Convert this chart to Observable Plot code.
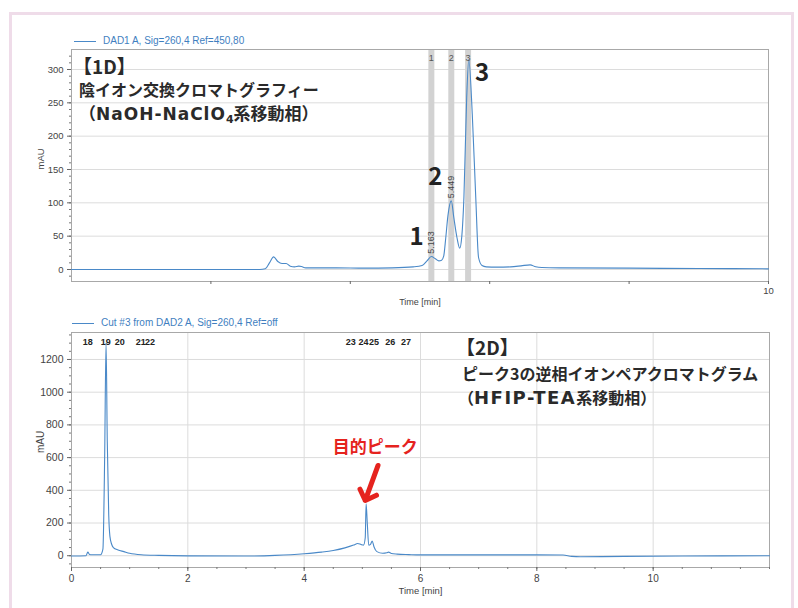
<!DOCTYPE html>
<html>
<head>
<meta charset="utf-8">
<script src="https://cdn.jsdelivr.net/npm/d3@7"></script>
<script src="https://cdn.jsdelivr.net/npm/@observablehq/plot@0.6"></script>
<style>
  body { margin: 0; background: #fff; }
  #wrap { position: relative; width: 798px; height: 608px; overflow: hidden; background: #fff; }
  #wrap svg { position: absolute; left: 0; }
  .border { position: absolute; left: 9px; top: 12px; width: 779px; height: 640px;
            border: 3.5px solid #efdce9; border-bottom: none; }
  .ttl { position: absolute; font-family: "Noto Sans CJK JP", sans-serif; font-weight: 700;
         font-size: 16px; line-height: 22px; color: #2a2a2a; white-space: nowrap; }
  .big { font-size: 19px; }
  .l3 { font-size: 17px; }
  .l3 .lat { font-size: 17px; letter-spacing: 1px; }
  .l3 sub { font-size: 11px; vertical-align: -3px; line-height: 0; font-family: "DejaVu Sans", sans-serif; }
  .lat { font-family: "DejaVu Sans", sans-serif; font-size: 18px; letter-spacing: 1.5px; }
  .leg { position: absolute; font-family: "Liberation Sans", Arial, sans-serif; font-size: 10px;
         color: #3f7fbf; white-space: nowrap; background: #fff; }
  .leg i { display: inline-block; width: 22px; height: 1px; background: #4a89c8;
           vertical-align: middle; margin-right: 7px; }
</style>
</head>
<body>
<div id="wrap">
  <div class="border"></div>
</div>
<script>
// ---------- 1D chromatogram (anion exchange) ----------
const topTimes  = [0, 2.7, 2.78, 2.84, 2.9, 2.96, 3.02, 3.08, 3.14, 3.2, 3.26, 3.3, 3.36, 3.45, 3.8, 4.2, 4.6, 4.9, 5.03, 5.1, 5.163, 5.22, 5.27, 5.31, 5.34, 5.37, 5.40, 5.449, 5.485, 5.53, 5.57, 5.60, 5.63, 5.67, 5.70, 5.75, 5.80, 5.84, 5.89, 5.95, 6.1, 6.3, 6.45, 6.58, 6.66, 6.75, 7.0, 8.0, 9.0, 10];
const topValues = [0, 0, 1, 10, 19, 12, 9, 9, 5, 4, 5, 4.5, 2.5, 2.5, 2.5, 2, 2.5, 4, 6, 13, 19.5, 16, 13, 14, 20, 48, 80, 103, 78, 48, 32, 50, 108, 258, 315, 233, 108, 18, 6, 4, 3.5, 4, 5.5, 7, 4, 3, 2.5, 2, 1.5, 1];
const topYTicks = [0, 50, 100, 150, 200, 250, 300];
const topXTicks = [2, 4, 6, 8, 10];
const cutTimes = [5.163, 5.449, 5.69];
const cutLabels = ["1", "2", "3"];
const rtLabels = ["5.163", "5.449"];
const rtValues = [19.5, 103];
const bigLabels = ["1", "2", "3"];
const bigLabelTimes = [4.95, 5.22, 5.89];
const bigLabelValues = [48, 138, 295];

// ---------- 2D chromatogram (reversed-phase ion pair) ----------
const botTimes  = [0, 0.25, 0.28, 0.31, 0.35, 0.5, 0.54, 0.57, 0.594, 0.615, 0.64, 0.66, 0.69, 0.72, 0.8, 0.9, 1.0, 1.2, 1.5, 2.0, 3.0, 3.5, 4.0, 4.3, 4.5, 4.7, 4.85, 4.92, 4.98, 5.02, 5.05, 5.065, 5.085, 5.11, 5.14, 5.17, 5.2, 5.25, 5.35, 5.42, 5.45, 5.5, 5.6, 5.8, 6.0, 7.0, 8.0, 8.45, 8.6, 8.75, 9.5, 10.5, 12];
const botValues = [-2, 0, 22, 8, 6, 6, 40, 600, 1303, 700, 250, 120, 70, 50, 35, 25, 15, 6, 2, -1, -2, 2, 12, 22, 32, 48, 65, 75, 68, 65, 110, 318, 200, 65, 70, 90, 55, 25, 15, 18, 22, 14, 10, 7, 5, 5, 5, 4, -4, -6, -4, -2, 0];
const botYTicks = [0, 200, 400, 600, 800, 1000, 1200];
const botXTicks = [0, 2, 4, 6, 8, 10];
const peakLabels = ["18", "19", "20", "21", "22", "23", "24", "25", "26", "27"];
const peakTimes  = [0.28, 0.59, 0.83, 1.19, 1.35, 4.80, 5.02, 5.20, 5.48, 5.75];
const targetLabel = ["目的ピーク"];
const targetLabelX = [5.22];
const targetLabelY = [662];
const arrowFromX = [5.27], arrowFromY = [552];
const arrowToX = [5.05], arrowToY = [338];

const lineColor = "#4a89c8";
const axisFont = "'Liberation Sans', Arial, sans-serif";
const plain = d => String(d);

const topPlot = Plot.plot({
  width: 798, height: 310,
  marginLeft: 71, marginRight: 30, marginTop: 49, marginBottom: 29,
  x: {domain: [0, 10]},
  y: {domain: [-18, 330]},
  style: {fontFamily: axisFont, fontSize: "9.5px", color: "#444", background: "transparent"},
  marks: [
    Plot.gridY(topYTicks, {stroke: "#dcdcdc", strokeOpacity: 1}),
    Plot.ruleX(cutTimes, {stroke: "#d2d2d2", strokeWidth: 6}),
    Plot.frame({stroke: "#a8a8a8"}),
    Plot.axisY(d3.range(-10, 330, 10), {tickSize: 2, tickFormat: () => "", label: null, stroke: "#777"}),
    Plot.axisY(topYTicks, {tickSize: 4, tickPadding: 4, tickFormat: plain, label: null, stroke: "#666"}),
    Plot.axisX(topXTicks, {tickSize: 3, tickPadding: 3, tickFormat: d => d === 10 ? "10" : "", label: null, stroke: "#666"}),
    Plot.line(topTimes, {x: topTimes, y: topValues, stroke: lineColor, strokeWidth: 1.1, curve: "monotone-x"}),
    Plot.text(cutLabels, {x: cutTimes, frameAnchor: "top", dy: 5, text: d => d, fontSize: 9, fill: "#555"}),
    Plot.text(rtLabels, {x: cutTimes.slice(0, 2), y: rtValues.map(v => v + 4), text: d => d, rotate: -90, textAnchor: "start", fontSize: 9, fill: "#444"}),
    Plot.text(bigLabels, {x: bigLabelTimes, y: bigLabelValues, text: d => d, fontSize: 24, fontWeight: 700, fontFamily: "'Noto Sans CJK JP', sans-serif", fill: "#222"}),
    Plot.text(["mAU"], {frameAnchor: "left", dx: -31, dy: 4, rotate: -90, text: d => d, fontSize: 9.5}),
    Plot.text(["Time [min]"], {frameAnchor: "bottom", dy: 23, text: d => d, fontSize: 9})
  ]
});
topPlot.style.top = "0px";

const botPlot = Plot.plot({
  width: 798, height: 298,
  marginLeft: 71, marginRight: 29, marginTop: 22, marginBottom: 41,
  x: {domain: [0, 12]},
  y: {domain: [-72, 1365]},
  style: {fontFamily: axisFont, fontSize: "10.5px", color: "#444", background: "transparent"},
  marks: [
    Plot.gridY(botYTicks, {stroke: "#dcdcdc", strokeOpacity: 1}),
    Plot.gridX(botXTicks.filter(d => d > 0), {stroke: "#dcdcdc", strokeOpacity: 1}),
    Plot.frame({stroke: "#a8a8a8"}),
    Plot.axisY(d3.range(-50, 1365, 50), {tickSize: 2, tickFormat: () => "", label: null, stroke: "#777"}),
    Plot.axisY(botYTicks, {tickSize: 4, tickPadding: 4, tickFormat: plain, label: null, stroke: "#666"}),
    Plot.axisX(d3.range(0, 12.01, 0.5), {tickSize: 2, tickFormat: () => "", label: null, stroke: "#777"}),
    Plot.axisX(botXTicks, {tickSize: 4, tickPadding: 3, tickFormat: plain, label: null, stroke: "#666", fontSize: 10}),
    Plot.line(botTimes, {x: botTimes, y: botValues, stroke: lineColor, strokeWidth: 1.1, curve: "monotone-x"}),
    Plot.text(peakLabels, {x: peakTimes, frameAnchor: "top", dy: 6, text: d => d, fontSize: 9, fontWeight: 700, fill: "#222"}),
    Plot.arrow(arrowFromX, {x1: arrowFromX, y1: arrowFromY, x2: arrowToX, y2: arrowToY, stroke: "#e5231e", strokeWidth: 5, headLength: 11, headAngle: 90}),
    Plot.text(targetLabel, {x: targetLabelX, y: targetLabelY, text: d => d, fontSize: 17, fontWeight: 700, fontFamily: "'Noto Sans CJK JP', sans-serif", fill: "#e5231e"}),
    Plot.text(["mAU"], {frameAnchor: "left", dx: -31, dy: 3, rotate: -90, text: d => d, fontSize: 10}),
    Plot.text(["Time [min]"], {frameAnchor: "bottom", dy: 26, text: d => d, fontSize: 9.5})
  ]
});
botPlot.style.top = "310px";

const wrap = document.getElementById("wrap");
wrap.appendChild(topPlot);
wrap.appendChild(botPlot);

function addDiv(cls, html, left, topPx) {
  const d = document.createElement("div");
  d.className = cls;
  d.innerHTML = html;
  d.style.left = left + "px";
  d.style.top = topPx + "px";
  wrap.appendChild(d);
  return d;
}
// legends
addDiv("leg", "<i></i>DAD1 A, Sig=260,4 Ref=450,80", 74, 35);
addDiv("leg", "<i></i>Cut #3 from DAD2 A, Sig=260,4 Ref=off", 72, 317).style.paddingRight = "6px";
// 1D title
addDiv("ttl big", "【1D】", 73, 55);
addDiv("ttl", "陰イオン交換クロマトグラフィー", 79, 78);
addDiv("ttl l3", "（<span class=\"lat\">NaOH-NaClO</span><sub>4</sub>系移動相）", 79, 102);
// 2D title
addDiv("ttl big", "【2D】", 456, 336);
addDiv("ttl", "ピーク3の逆相イオンペアクロマトグラム", 462, 362);
addDiv("ttl", "（<span class=\"lat\">HFIP-TEA</span>系移動相）", 458, 386);
</script>
</body>
</html>
